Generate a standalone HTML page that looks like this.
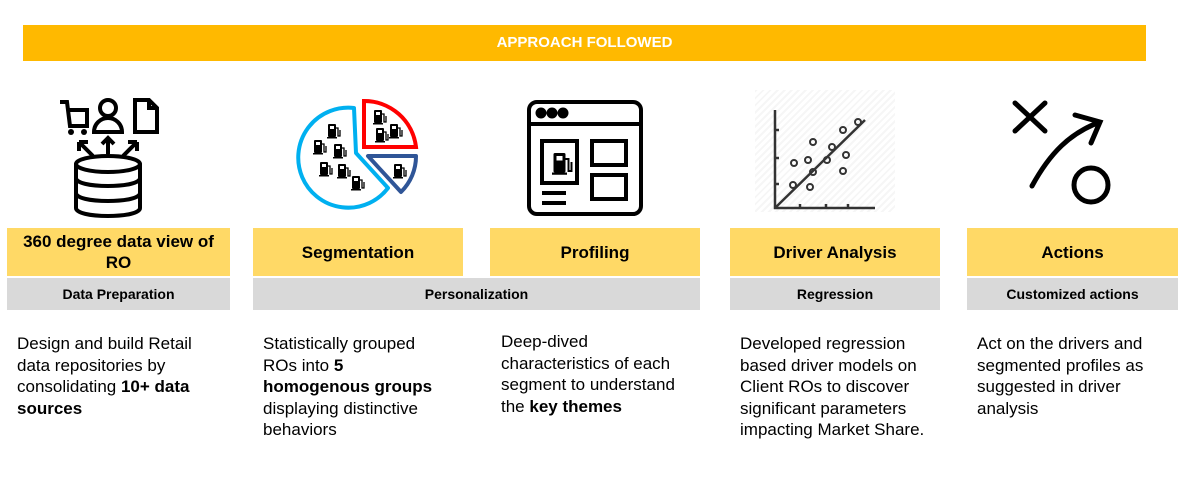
<!DOCTYPE html>
<html><head><meta charset="utf-8"><style>
body{margin:0;width:1191px;height:484px;background:#fff;position:relative;overflow:hidden;font-family:"Liberation Sans",Arial,sans-serif;color:#000}
.abs{position:absolute}
.banner{left:23px;top:25px;width:1123px;height:36px;background:#FFB900;color:#fff;font-weight:bold;font-size:15px;line-height:36px;text-align:center}
.y{background:#FFD966;top:228px;height:48px;display:flex;align-items:center;justify-content:center;text-align:center;font-weight:bold;font-size:17px;line-height:21px}
.g{background:#D9D9D9;top:278px;height:32px;line-height:32px;text-align:center;font-weight:bold;font-size:14px}
.t{font-size:17px;line-height:21.5px;top:333px}
svg{position:absolute;overflow:visible}
</style></head><body>
<svg width="0" height="0" style="position:absolute"><defs>
<g id="pump"><rect x="0" y="0" width="8" height="13" rx="1" fill="#000"/><rect x="2" y="2" width="4" height="3" fill="#fff"/><path d="M8 4h2v8h2V6" fill="none" stroke="#000" stroke-width="1.3"/><rect x="-1" y="13" width="10" height="1.5" fill="#000"/></g>
</defs></svg>
<div class="abs banner">APPROACH FOLLOWED</div>

<svg style="left:55px;top:96px" width="110" height="120" viewBox="0 0 110 120" fill="none" stroke="#000" stroke-width="4">
<path d="M5 6h7l3 24h17v-16h-20"/><circle cx="16" cy="36" r="3" fill="#000" stroke="none"/><circle cx="29" cy="36" r="3" fill="#000" stroke="none"/>
<circle cx="53" cy="12" r="8"/><path d="M39 36a14 14 0 0 1 28 0z"/>
<path d="M80 4h14l8 8v24h-22z M94 4v8h8"/>
<path d="M38 60L24 46 M24 46v9 M24 46h9 M53 58V42 M47 48l6-6 6 6 M68 60L82 46 M82 46v9 M82 46h-9"/>
<ellipse cx="53" cy="68" rx="32" ry="8"/><path d="M21 68v44c0 5 14 8 32 8s32-3 32-8V68 M21 82c0 5 14 8 32 8s32-3 32-8 M21 97c0 5 14 8 32 8s32-3 32-8"/>
</svg>

<svg style="left:298px;top:98px" width="124" height="110" viewBox="0 0 124 110">
<path d="M56 10 A50 50 0 1 0 90 90 L58 55 Z" fill="none" stroke="#00B0F0" stroke-width="4" stroke-linejoin="round"/>
<path d="M66 3 A52 52 0 0 1 118 49 L66 49 Z" fill="none" stroke="#FF0000" stroke-width="4"/>
<path d="M70 58 L118 58 A50 50 0 0 1 103 94 Z" fill="none" stroke="#2F5597" stroke-width="4" stroke-linejoin="round"/>
<use href="#pump" x="30" y="26"/><use href="#pump" x="16" y="42"/><use href="#pump" x="36" y="46"/><use href="#pump" x="22" y="64"/><use href="#pump" x="40" y="66"/><use href="#pump" x="54" y="78"/>
<use href="#pump" x="76" y="12"/><use href="#pump" x="78" y="30"/><use href="#pump" x="92" y="26"/><use href="#pump" x="96" y="66"/>
</svg>

<svg style="left:526px;top:99px" width="118" height="118" viewBox="0 0 118 118" fill="none" stroke="#000" stroke-width="4">
<rect x="3" y="3" width="112" height="112" rx="8"/><path d="M3 25h112"/>
<circle cx="15" cy="14" r="3.5" fill="#000"/><circle cx="26" cy="14" r="3.5" fill="#000"/><circle cx="37" cy="14" r="3.5" fill="#000"/>
<rect x="16" y="42" width="35" height="42"/><rect x="66" y="42" width="34" height="24"/><rect x="66" y="76" width="34" height="24"/>
<path d="M16 94h24 M16 104h24"/><use href="#pump" x="27" y="54" stroke="none" transform="translate(-13 -27) scale(1.5)"/>
</svg>

<div class="abs" style="left:755px;top:90px;width:140px;height:122px;background:repeating-linear-gradient(135deg,#f6f6f6 0 2px,#fff 2px 5px)"></div>
<svg style="left:770px;top:110px" width="120" height="102" viewBox="0 0 120 102" fill="none" stroke="#333" stroke-width="2.5">
<path d="M5 0v98h100 M5 98L95 10 M5 20h4 M5 48h4 M5 74h4 M30 98v-4 M56 98v-4 M78 98v-4"/>
<g stroke-width="2"><circle cx="24" cy="53" r="3"/><circle cx="23" cy="75" r="3"/><circle cx="43" cy="32" r="3"/><circle cx="38" cy="50" r="3"/><circle cx="43" cy="62" r="3"/><circle cx="40" cy="77" r="3"/><circle cx="57" cy="50" r="3"/><circle cx="62" cy="37" r="3"/><circle cx="73" cy="20" r="3"/><circle cx="76" cy="45" r="3"/><circle cx="73" cy="61" r="3"/><circle cx="88" cy="12" r="3"/></g>
</svg>

<svg style="left:1005px;top:98px" width="115" height="108" viewBox="0 0 115 108" fill="none" stroke="#000" stroke-width="5" stroke-linecap="round">
<path d="M10 5L40 33 M40 5L10 33"/><path d="M27 88C45 55 65 35 95 24 M70 17L95 24 L86 45"/><circle cx="86" cy="87" r="17"/>
</svg>

<div class="abs y" style="left:7px;width:223px">360 degree data view of<br>RO</div>
<div class="abs y" style="left:253px;width:210px">Segmentation</div>
<div class="abs y" style="left:490px;width:210px">Profiling</div>
<div class="abs y" style="left:730px;width:210px">Driver Analysis</div>
<div class="abs y" style="left:967px;width:211px">Actions</div>

<div class="abs g" style="left:7px;width:223px">Data Preparation</div>
<div class="abs g" style="left:253px;width:447px">Personalization</div>
<div class="abs g" style="left:730px;width:210px">Regression</div>
<div class="abs g" style="left:967px;width:211px">Customized actions</div>

<div class="abs t" style="left:17px">Design and build Retail<br>data repositories by<br>consolidating <b>10+ data<br>sources</b></div>
<div class="abs t" style="left:263px">Statistically grouped<br>ROs into <b>5<br>homogenous groups</b><br>displaying distinctive<br>behaviors</div>
<div class="abs t" style="left:501px;top:331px">Deep-dived<br>characteristics of each<br>segment to understand<br>the <b>key themes</b></div>
<div class="abs t" style="left:740px">Developed regression<br>based driver models on<br>Client ROs to discover<br>significant parameters<br>impacting Market Share.</div>
<div class="abs t" style="left:977px">Act on the drivers and<br>segmented profiles as<br>suggested in driver<br>analysis</div>
</body></html>
